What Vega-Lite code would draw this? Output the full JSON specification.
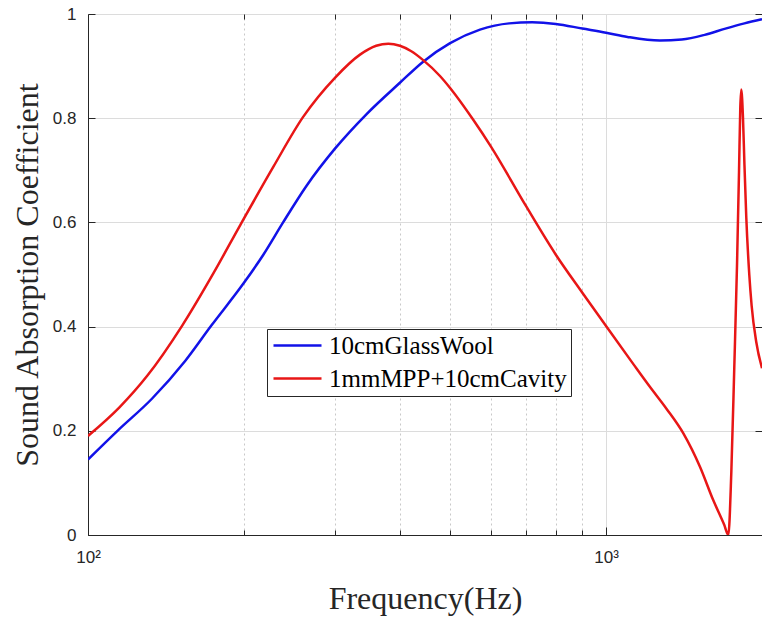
{
  "$schema": "https://vega.github.io/schema/vega-lite/v6.json",
  "width": 674,
  "height": 521,
  "autosize": "none",
  "padding": {"left": 88, "top": 14, "right": 0, "bottom": 84},
  "background": "white",
  "config": {
    "view": {"stroke": "#262626", "strokeWidth": 1},
    "axis": {
      "domainColor": "#262626",
      "tickColor": "#262626",
      "labelFont": "Liberation Sans",
      "labelFontSize": 17,
      "labelColor": "#262626",
      "titleFont": "Liberation Serif",
      "titleFontSize": 32,
      "titleFontWeight": "normal",
      "titleColor": "#262626",
      "gridColor": "#dcdcdc",
      "gridWidth": 1,
      "labelFlush": false
    }
  },
  "data": {
    "values": [
      {"s": "10cmGlassWool", "f": 100, "a": 0.145},
      {"s": "10cmGlassWool", "f": 114, "a": 0.2},
      {"s": "10cmGlassWool", "f": 133, "a": 0.262},
      {"s": "10cmGlassWool", "f": 154, "a": 0.334},
      {"s": "10cmGlassWool", "f": 173, "a": 0.402},
      {"s": "10cmGlassWool", "f": 200, "a": 0.484},
      {"s": "10cmGlassWool", "f": 218, "a": 0.538},
      {"s": "10cmGlassWool", "f": 238, "a": 0.6},
      {"s": "10cmGlassWool", "f": 264, "a": 0.67},
      {"s": "10cmGlassWool", "f": 300, "a": 0.742},
      {"s": "10cmGlassWool", "f": 345, "a": 0.808},
      {"s": "10cmGlassWool", "f": 400, "a": 0.868},
      {"s": "10cmGlassWool", "f": 443, "a": 0.908},
      {"s": "10cmGlassWool", "f": 500, "a": 0.944},
      {"s": "10cmGlassWool", "f": 571, "a": 0.97},
      {"s": "10cmGlassWool", "f": 650, "a": 0.982},
      {"s": "10cmGlassWool", "f": 720, "a": 0.984},
      {"s": "10cmGlassWool", "f": 800, "a": 0.981},
      {"s": "10cmGlassWool", "f": 900, "a": 0.972},
      {"s": "10cmGlassWool", "f": 1000, "a": 0.964},
      {"s": "10cmGlassWool", "f": 1100, "a": 0.956},
      {"s": "10cmGlassWool", "f": 1270, "a": 0.949},
      {"s": "10cmGlassWool", "f": 1400, "a": 0.951},
      {"s": "10cmGlassWool", "f": 1550, "a": 0.96},
      {"s": "10cmGlassWool", "f": 1700, "a": 0.972},
      {"s": "10cmGlassWool", "f": 1850, "a": 0.982},
      {"s": "10cmGlassWool", "f": 2000, "a": 0.99},
      {"s": "1mmMPP+10cmCavity", "f": 100, "a": 0.19},
      {"s": "1mmMPP+10cmCavity", "f": 115, "a": 0.245},
      {"s": "1mmMPP+10cmCavity", "f": 130, "a": 0.305},
      {"s": "1mmMPP+10cmCavity", "f": 152, "a": 0.402},
      {"s": "1mmMPP+10cmCavity", "f": 175, "a": 0.504},
      {"s": "1mmMPP+10cmCavity", "f": 196, "a": 0.592},
      {"s": "1mmMPP+10cmCavity", "f": 228, "a": 0.707},
      {"s": "1mmMPP+10cmCavity", "f": 260, "a": 0.802},
      {"s": "1mmMPP+10cmCavity", "f": 300, "a": 0.878},
      {"s": "1mmMPP+10cmCavity", "f": 335, "a": 0.922},
      {"s": "1mmMPP+10cmCavity", "f": 360, "a": 0.939},
      {"s": "1mmMPP+10cmCavity", "f": 380, "a": 0.943},
      {"s": "1mmMPP+10cmCavity", "f": 400, "a": 0.939},
      {"s": "1mmMPP+10cmCavity", "f": 420, "a": 0.929},
      {"s": "1mmMPP+10cmCavity", "f": 443, "a": 0.912},
      {"s": "1mmMPP+10cmCavity", "f": 478, "a": 0.881},
      {"s": "1mmMPP+10cmCavity", "f": 500, "a": 0.858},
      {"s": "1mmMPP+10cmCavity", "f": 555, "a": 0.796},
      {"s": "1mmMPP+10cmCavity", "f": 600, "a": 0.745},
      {"s": "1mmMPP+10cmCavity", "f": 700, "a": 0.632},
      {"s": "1mmMPP+10cmCavity", "f": 800, "a": 0.538},
      {"s": "1mmMPP+10cmCavity", "f": 900, "a": 0.465},
      {"s": "1mmMPP+10cmCavity", "f": 1000, "a": 0.401},
      {"s": "1mmMPP+10cmCavity", "f": 1129, "a": 0.328},
      {"s": "1mmMPP+10cmCavity", "f": 1216, "a": 0.284},
      {"s": "1mmMPP+10cmCavity", "f": 1309, "a": 0.242},
      {"s": "1mmMPP+10cmCavity", "f": 1410, "a": 0.195},
      {"s": "1mmMPP+10cmCavity", "f": 1518, "a": 0.131},
      {"s": "1mmMPP+10cmCavity", "f": 1610, "a": 0.067},
      {"s": "1mmMPP+10cmCavity", "f": 1690, "a": 0.02},
      {"s": "1mmMPP+10cmCavity", "f": 1722, "a": 0.0},
      {"s": "1mmMPP+10cmCavity", "f": 1745, "a": 0.12},
      {"s": "1mmMPP+10cmCavity", "f": 1768, "a": 0.32},
      {"s": "1mmMPP+10cmCavity", "f": 1790, "a": 0.52},
      {"s": "1mmMPP+10cmCavity", "f": 1806, "a": 0.7},
      {"s": "1mmMPP+10cmCavity", "f": 1816, "a": 0.82},
      {"s": "1mmMPP+10cmCavity", "f": 1824, "a": 0.855},
      {"s": "1mmMPP+10cmCavity", "f": 1838, "a": 0.8},
      {"s": "1mmMPP+10cmCavity", "f": 1850, "a": 0.71},
      {"s": "1mmMPP+10cmCavity", "f": 1865, "a": 0.61},
      {"s": "1mmMPP+10cmCavity", "f": 1890, "a": 0.5},
      {"s": "1mmMPP+10cmCavity", "f": 1910, "a": 0.44},
      {"s": "1mmMPP+10cmCavity", "f": 1950, "a": 0.37},
      {"s": "1mmMPP+10cmCavity", "f": 2000, "a": 0.32}
    ]
  },
  "layer": [
    {
      "mark": {"type": "point", "opacity": 0},
      "encoding": {
        "x": {
          "field": "f", "type": "quantitative",
          "scale": {"type": "log", "domain": [100, 2000], "nice": false},
          "axis": {
            "orient": "top", "values": [200, 300, 400, 500, 600, 700, 800, 900, 2000],
            "labels": false, "title": null, "domain": false,
            "tickSize": -5, "grid": true, "gridDash": [2, 3], "gridColor": "#c8c8c8"
          }
        },
        "y": {
          "field": "a", "type": "quantitative",
          "scale": {"domain": [0, 1], "nice": false},
          "axis": {"orient": "right", "values": [0, 0.2, 0.4, 0.6, 0.8, 1], "labels": false, "title": null, "domain": false, "grid": false, "tickSize": -7}
        }
      }
    },
    {
      "mark": {"type": "point", "opacity": 0},
      "encoding": {
        "x": {
          "field": "f", "type": "quantitative",
          "scale": {"type": "log", "domain": [100, 2000], "nice": false},
          "axis": {
            "orient": "bottom", "values": [200, 300, 400, 500, 600, 700, 800, 900, 2000],
            "labels": false, "title": null, "domain": false, "grid": false, "tickSize": -5
          }
        },
        "y": {"field": "a", "type": "quantitative", "axis": null}
      }
    },
    {
      "mark": {"type": "line", "strokeWidth": 2.5, "clip": true, "interpolate": "monotone"},
      "encoding": {
        "x": {
          "field": "f", "type": "quantitative",
          "scale": {"type": "log", "domain": [100, 2000], "nice": false},
          "axis": {
            "orient": "bottom", "values": [100, 1000],
            "labelExpr": "datum.value == 100 ? '10²' : '10³'",
            "labelPadding": 22, "tickSize": -8, "grid": true,
            "title": "Frequency(Hz)", "titlePadding": 18
          }
        },
        "y": {
          "field": "a", "type": "quantitative",
          "scale": {"domain": [0, 1], "nice": false},
          "axis": {
            "orient": "left", "values": [0, 0.2, 0.4, 0.6, 0.8, 1],
            "format": ".1~f", "labelPadding": 19, "tickSize": -7, "grid": true,
            "title": "Sound Absorption Coefficient", "titlePadding": 8
          }
        },
        "color": {
          "field": "s", "type": "nominal",
          "scale": {"domain": ["10cmGlassWool", "1mmMPP+10cmCavity"], "range": ["#1212e8", "#e81616"]},
          "legend": {
            "orient": "none", "legendX": 179, "legendY": 315, "direction": "vertical",
            "title": null, "symbolType": "M-1,0H3.8", "symbolSize": 400, "symbolStrokeWidth": 2.5,
            "labelFont": "Liberation Serif", "labelFontSize": 25, "labelColor": "black",
            "strokeColor": "#262626", "fillColor": "white", "padding": 4, "rowPadding": 7,
            "labelOffset": 33, "labelLimit": 400
          }
        }
      }
    }
  ],
  "resolve": {"axis": {"x": "independent", "y": "independent"}}
}
